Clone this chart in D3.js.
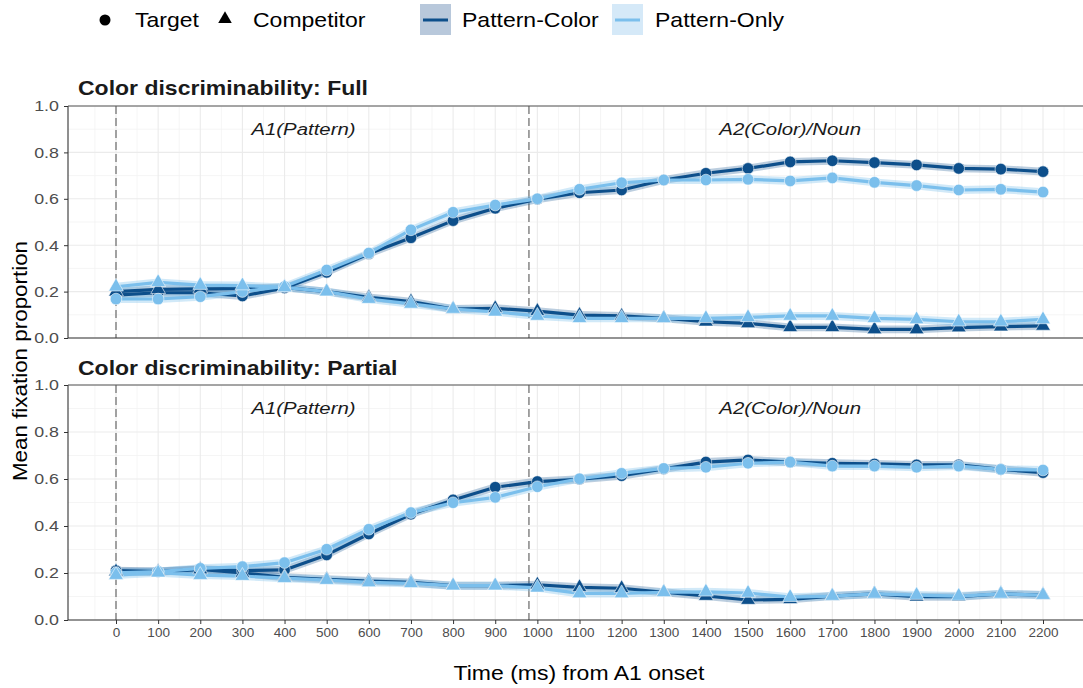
<!DOCTYPE html>
<html>
<head>
<meta charset="utf-8">
<script src="https://cdn.jsdelivr.net/npm/d3@7"></script>
<style>
  body { margin: 0; background: #fff; }
  svg { display: block; font-family: "Liberation Sans", Arial, sans-serif; }
</style>
</head>
<body>
<svg id="chart" width="1083" height="688"></svg>
<script>
// ---------------- DATA ----------------
const times = [0,100,200,300,400,500,600,700,800,900,1000,1100,1200,1300,1400,1500,1600,1700,1800,1900,2000,2100,2200];
const xTickLabels = ["0","100","200","300","400","500","600","700","800","900","1000","1100","1200","1300","1400","1500","1600","1700","1800","1900","2000","2100","2200"];
const yTickValues = [0, 0.2, 0.4, 0.6, 0.8, 1.0];
const panels = ["Color discriminability: Full", "Color discriminability: Partial"];
const conditions = ["Pattern-Color", "Pattern-Only"];
const roles = ["Target", "Competitor"];

// Full panel
const fullTargetPC = [0.185,0.195,0.195,0.181,0.216,0.283,0.363,0.432,0.506,0.559,0.598,0.626,0.638,0.681,0.710,0.731,0.759,0.764,0.756,0.746,0.731,0.728,0.717];
const fullTargetPO = [0.168,0.168,0.178,0.200,0.222,0.293,0.366,0.466,0.542,0.573,0.600,0.641,0.669,0.681,0.681,0.684,0.677,0.690,0.671,0.657,0.638,0.641,0.629];
const fullCompPC   = [0.200,0.210,0.212,0.213,0.218,0.200,0.175,0.157,0.125,0.128,0.116,0.099,0.095,0.085,0.070,0.063,0.046,0.046,0.037,0.037,0.045,0.049,0.052];
const fullCompPO   = [0.221,0.240,0.228,0.226,0.218,0.200,0.168,0.147,0.125,0.113,0.095,0.085,0.085,0.085,0.085,0.089,0.095,0.095,0.085,0.080,0.070,0.070,0.080];
// Partial panel
const partTargetPC = [0.210,0.206,0.216,0.210,0.213,0.277,0.366,0.450,0.511,0.565,0.589,0.599,0.614,0.643,0.672,0.681,0.672,0.667,0.664,0.660,0.660,0.641,0.627];
const partTargetPO = [0.201,0.206,0.220,0.227,0.244,0.301,0.386,0.457,0.499,0.522,0.567,0.601,0.624,0.645,0.650,0.667,0.672,0.655,0.655,0.650,0.655,0.641,0.638];
const partCompPC   = [0.206,0.205,0.215,0.200,0.182,0.173,0.166,0.160,0.146,0.146,0.150,0.139,0.135,0.118,0.102,0.085,0.088,0.102,0.111,0.099,0.099,0.111,0.106];
const partCompPO   = [0.191,0.201,0.191,0.187,0.178,0.170,0.160,0.156,0.146,0.146,0.137,0.113,0.113,0.118,0.120,0.115,0.097,0.102,0.111,0.106,0.102,0.111,0.106];
// approximate half-width of confidence ribbons
const ribbonHalf = [0.017, 0.017];
// phase markers
const phaseLines = [0, 980];
const phaseLabels = ["A1(Pattern)", "A2(Color)/Noun"];
const phaseLabelX = [445, 1600];
const phaseLabelY = 0.9;

// ---------------- STYLE ----------------
const colors = { "Pattern-Color": "#0d4f8b", "Pattern-Only": "#7bbfec" };
const ribbonColors = { "Pattern-Color": "#0d4f8b", "Pattern-Only": "#7bbfec" };
const keyFill = { "Pattern-Color": "#b8c8db", "Pattern-Only": "#d5e9f8" };

const panelBoxes = [
  { top: 106, bottom: 338, titleY: 88 },
  { top: 385, bottom: 620, titleY: 368 }
];
const plotLeft = 68, plotRight = 1095;

const seriesByPanel = [
  [
    { cond: "Pattern-Color", role: "Target", vals: fullTargetPC },
    { cond: "Pattern-Color", role: "Competitor", vals: fullCompPC },
    { cond: "Pattern-Only", role: "Target", vals: fullTargetPO },
    { cond: "Pattern-Only", role: "Competitor", vals: fullCompPO }
  ],
  [
    { cond: "Pattern-Color", role: "Target", vals: partTargetPC },
    { cond: "Pattern-Color", role: "Competitor", vals: partCompPC },
    { cond: "Pattern-Only", role: "Target", vals: partTargetPO },
    { cond: "Pattern-Only", role: "Competitor", vals: partCompPO }
  ]
];

const svg = d3.select("#chart");
const x = d3.scaleLinear().domain([0, 2200]).range([116, 1043]);

const triSym = d3.symbol().type(d3.symbolTriangle).size(95);
const triLegend = d3.symbol().type(d3.symbolTriangle).size(80);

// text helper with horizontal stretch
function addText(parent, tx, ty, str, opts) {
  const o = Object.assign({ size: 20, sx: 1.15, anchor: "start", weight: "normal", style: "normal", fill: "#000", rotate: 0 }, opts || {});
  const g = parent.append("g").attr("transform", `translate(${tx},${ty}) rotate(${o.rotate}) scale(${o.sx},1)`);
  g.append("text").attr("x", 0).attr("y", 0)
    .attr("text-anchor", o.anchor).attr("dominant-baseline", "central")
    .attr("font-size", o.size).attr("font-weight", o.weight).attr("font-style", o.style)
    .attr("fill", o.fill).text(str);
  return g;
}

panelBoxes.forEach((pb, pi) => {
  const y = d3.scaleLinear().domain([0, 1]).range([pb.bottom, pb.top]);
  const g = svg.append("g");

  // minor grid
  const minorX = d3.range(-100, 2301, 50).filter(v => v % 100 !== 0);
  const minorY = [0.1, 0.3, 0.5, 0.7, 0.9];
  g.selectAll(".mgx").data(minorX).join("line")
    .attr("x1", d => x(d)).attr("x2", d => x(d))
    .attr("y1", pb.top).attr("y2", pb.bottom)
    .attr("stroke", "#f3f3f3").attr("stroke-width", 0.8);
  g.selectAll(".mgy").data(minorY).join("line")
    .attr("x1", plotLeft).attr("x2", plotRight)
    .attr("y1", d => y(d)).attr("y2", d => y(d))
    .attr("stroke", "#f3f3f3").attr("stroke-width", 0.8);
  // major grid
  g.selectAll(".gx").data(times).join("line")
    .attr("x1", d => x(d)).attr("x2", d => x(d))
    .attr("y1", pb.top).attr("y2", pb.bottom)
    .attr("stroke", "#ebebeb").attr("stroke-width", 1.1);
  g.selectAll(".gy").data(yTickValues).join("line")
    .attr("x1", plotLeft).attr("x2", plotRight)
    .attr("y1", d => y(d)).attr("y2", d => y(d))
    .attr("stroke", "#ebebeb").attr("stroke-width", 1.1);

  // phase dashed lines
  g.selectAll(".phase").data(phaseLines).join("line")
    .attr("x1", d => x(d)).attr("x2", d => x(d))
    .attr("y1", pb.top).attr("y2", pb.bottom)
    .attr("stroke", "#858585").attr("stroke-width", 1.5)
    .attr("stroke-dasharray", "8,4");

  // phase labels
  phaseLabels.forEach((lab, i) => {
    addText(g, x(phaseLabelX[i]), y(phaseLabelY), lab, { size: 17, sx: 1.2, anchor: "middle", style: "italic", fill: "#1a1a1a" });
  });

  const series = seriesByPanel[pi];
  // ribbons
  series.forEach(s => {
    const area = d3.area()
      .x((d, i) => x(times[i]))
      .y0(d => y(d - ribbonHalf[conditions.indexOf(s.cond)]))
      .y1(d => y(d + ribbonHalf[conditions.indexOf(s.cond)]));
    g.append("path").datum(s.vals).attr("d", area)
      .attr("fill", ribbonColors[s.cond]).attr("fill-opacity", s.cond === "Pattern-Color" ? 0.28 : 0.35);
  });
  // lines
  series.forEach(s => {
    const line = d3.line().x((d, i) => x(times[i])).y(d => y(d));
    g.append("path").datum(s.vals).attr("d", line)
      .attr("fill", "none").attr("stroke", colors[s.cond]).attr("stroke-width", 3.2)
      .attr("stroke-linejoin", "round");
  });
  // points
  series.forEach(s => {
    if (s.role === "Target") {
      g.selectAll(null).data(s.vals).join("circle")
        .attr("cx", (d, i) => x(times[i])).attr("cy", d => y(d)).attr("r", 5.8)
        .attr("fill", colors[s.cond]).attr("stroke", "rgba(255,255,255,0.55)").attr("stroke-width", 1);
    } else {
      g.selectAll(null).data(s.vals).join("path")
        .attr("d", triSym)
        .attr("transform", (d, i) => `translate(${x(times[i])},${y(d)})`)
        .attr("fill", colors[s.cond]).attr("stroke", "rgba(255,255,255,0.55)").attr("stroke-width", 1);
    }
  });

  // axis lines
  g.append("line").attr("x1", plotLeft).attr("x2", plotLeft).attr("y1", pb.top).attr("y2", pb.bottom)
    .attr("stroke", "#333").attr("stroke-width", 1.1);
  g.append("line").attr("x1", plotLeft).attr("x2", plotRight).attr("y1", pb.bottom).attr("y2", pb.bottom)
    .attr("stroke", "#333").attr("stroke-width", 1.1);
  g.append("line").attr("x1", plotLeft).attr("x2", plotRight).attr("y1", pb.top).attr("y2", pb.top)
    .attr("stroke", "#555").attr("stroke-width", 1);

  // y axis
  const yAxis = d3.axisLeft(y).tickValues(yTickValues).tickFormat(d3.format(".1f")).tickSize(4).tickPadding(3);
  const ya = svg.append("g").attr("transform", `translate(${plotLeft},0)`).call(yAxis);
  ya.select(".domain").remove();
  ya.selectAll("line").attr("stroke", "#333");
  ya.selectAll("text").attr("font-size", 15.5).attr("fill", "#4d4d4d")
    .attr("font-family", "Liberation Sans, Arial, sans-serif")
    .attr("transform", "translate(-1,0) scale(1.15,1)");

  // x axis (bottom panel only)
  if (pi === panelBoxes.length - 1) {
    const xAxis = d3.axisBottom(x).tickValues(times).tickFormat((d, i) => xTickLabels[i]).tickSize(4).tickPadding(3);
    const xa = svg.append("g").attr("transform", `translate(0,${pb.bottom})`).call(xAxis);
    xa.select(".domain").remove();
    xa.selectAll("line").attr("stroke", "#333");
    xa.selectAll("text").attr("font-size", 13.5).attr("fill", "#4d4d4d")
      .attr("font-family", "Liberation Sans, Arial, sans-serif");
  }

  // panel title
  addText(svg, 78, pb.titleY, panels[pi], { size: 20, sx: 1.15, weight: "bold", fill: "#1a1a1a" });
});

// axis titles
addText(svg, 579, 673, "Time (ms) from A1 onset", { size: 20, sx: 1.15, anchor: "middle" });
addText(svg, 20, 361, "Mean fixation proportion", { size: 20, sx: 1.12, anchor: "middle", rotate: -90 });

// legend: shapes
const lg = svg.append("g");
lg.append("circle").attr("cx", 105).attr("cy", 20).attr("r", 5.5).attr("fill", "#000");
addText(lg, 135, 20, roles[0], { size: 20, sx: 1.15 });
lg.append("path").attr("d", triLegend).attr("transform", "translate(225,19)").attr("fill", "#000");
addText(lg, 253, 20, roles[1], { size: 20, sx: 1.15 });
// legend: conditions
const keyX = [420, 612];
const textX = [462, 655];
conditions.forEach((c, i) => {
  lg.append("rect").attr("x", keyX[i]).attr("y", 4).attr("width", 31).attr("height", 31).attr("fill", keyFill[c]);
  lg.append("line").attr("x1", keyX[i] + 3).attr("x2", keyX[i] + 28).attr("y1", 20).attr("y2", 20)
    .attr("stroke", colors[c]).attr("stroke-width", 3);
  addText(lg, textX[i], 20, c, { size: 20, sx: 1.15 });
});
</script>
</body>
</html>
